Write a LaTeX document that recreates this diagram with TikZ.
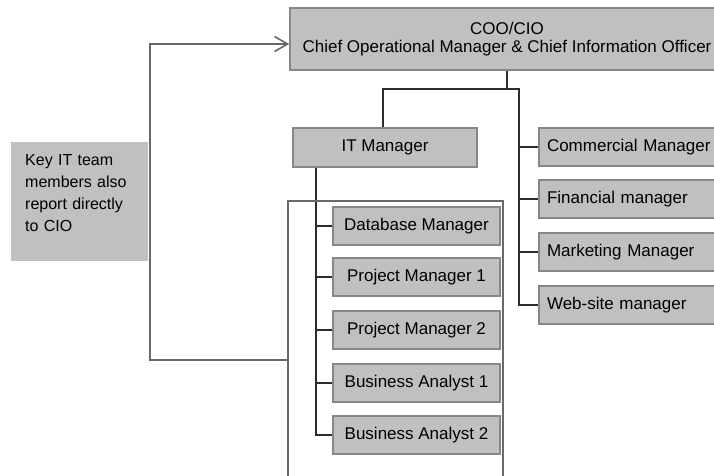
\documentclass[tikz,border=0pt]{standalone}
\usepackage{fontspec}
\setmainfont{Liberation Sans}
\usetikzlibrary{arrows.meta}
\definecolor{boxfill}{RGB}{192,192,192}
\definecolor{boxedge}{RGB}{135,135,135}
\definecolor{wirecol}{RGB}{45,45,45}
\definecolor{framecol}{RGB}{105,105,105}

\begin{document}
\begin{tikzpicture}[x=1pt,y=-1pt,
  box/.style={draw=boxedge, line width=1.6pt, fill=boxfill, inner sep=0pt,
              font=\fontsize{17}{18}\selectfont},
  leftbox/.style={box, minimum width=167pt, minimum height=38pt},
  rightbox/.style={box, text width=175pt, align=left, inner xsep=8pt, minimum height=38pt},
  wire/.style={draw=wirecol, line width=2pt},
  frameline/.style={draw=framecol, line width=2.4pt}]
\clip (0,0) rectangle (714,476);
\fill[white] (0,0) rectangle (714,476);

% top management
\node[box, minimum width=434pt, minimum height=62pt, align=center] (coo) at (507,39)
  {COO/CIO\\Chief Operational Manager \& Chief Information Officer};
\node[box, minimum width=184pt, minimum height=39pt] (itm) at (385,147.5) {IT Manager};

% IT team
\node[leftbox] (db)  at (416.5,226) {Database Manager};
\node[leftbox] (pm1) at (416.5,277) {Project Manager 1};
\node[leftbox] (pm2) at (416.5,330) {Project Manager 2};
\node[leftbox] (ba1) at (416.5,383) {Business Analyst 1};
\node[leftbox] (ba2) at (416.5,435) {Business Analyst 2};

% other managers
\node[rightbox] (com) at (634.5,147) {Commercial Manager};
\node[rightbox] (fin) at (634.5,199) {Financial manager};
\node[rightbox] (mkt) at (634.5,252) {Marketing Manager};
\node[rightbox] (web) at (634.5,305) {Web-site manager};

% side note (text sits a little above the middle of its box)
\node[fill=boxfill, anchor=north west, text width=109pt, inner xsep=14pt, inner ysep=0pt,
      minimum height=119pt, align=left, font=\fontsize{16}{22}\selectfont] (key) at (11,142)
  {Key IT team\\members also\\report directly\\to CIO\\[-4pt]\mbox{}};

% reporting lines
\coordinate (hub)  at (507,89);
\coordinate (hubL) at (383,89);
\coordinate (hubR) at (519,89);
\coordinate (itx)  at (316,0);
\draw[wire] (coo.south) -- (hub);
\draw[wire] (hubL |- itm.north) -- (hubL) -- (hubR) -- (hubR |- web.west) -- (web.west);
\foreach \n in {com,fin,mkt} \draw[wire] (hubR |- \n.west) -- (\n.west);
\draw[wire] (itx |- itm.south) -- (itx |- ba2.west) -- (ba2.west);
\foreach \n in {db,pm1,pm2,ba1} \draw[wire] (itx |- \n.west) -- (\n.west);

% frame round the key IT team and the direct line to the CIO
\coordinate (frTL) at (288,201);
\coordinate (frTR) at (503,201);
\coordinate (frBL) at (288,490);
\coordinate (frBR) at (503,490);
\coordinate (tap)  at (288,360);
\coordinate (bend1) at (150,360);
\coordinate (bend2) at (150,44);
\draw[frameline] (frBL) -- (frTL) -- (frTR) -- (frBR);
\draw[frameline, -{Straight Barb[length=13pt,width=15pt,line width=1.6pt]}]
  (tap) -- (bend1) -- (bend2) -- (bend2 -| coo.west);
\end{tikzpicture}
\end{document}
